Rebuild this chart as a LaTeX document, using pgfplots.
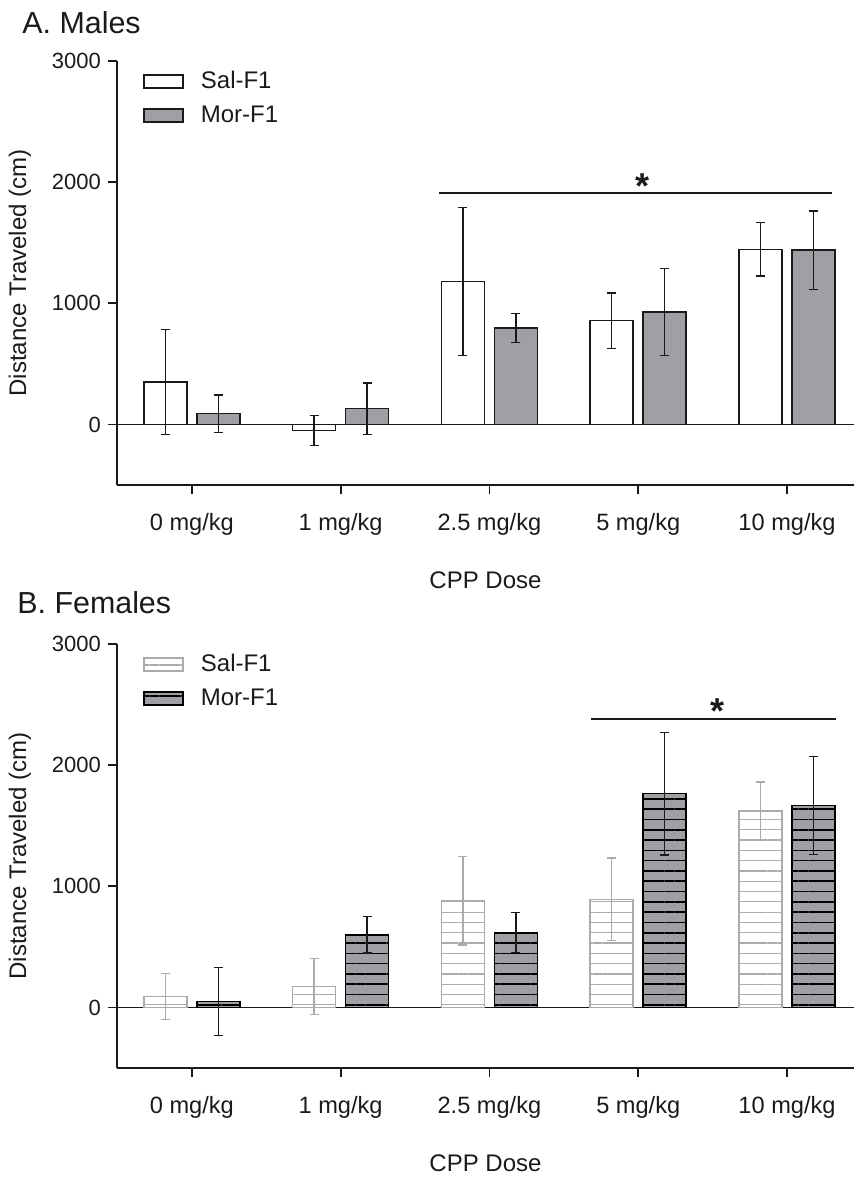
\documentclass[border=0pt]{standalone}
\usepackage{fontspec}
\setmainfont{Liberation Sans}
\usepackage{pgfplots}
\pgfplotsset{compat=1.18}
\usetikzlibrary{patterns.meta}
\definecolor{txt}{HTML}{1A1A1A}
\definecolor{morgray}{HTML}{A0A0A4}
\definecolor{salgray}{HTML}{ABABAB}

\pgfplotsset{
  panel/.style={
    scale only axis, width=368.5pt, height=212pt,
    xmin=-0.503, xmax=4.45, ymin=-500, ymax=3000,
    axis x line*=bottom, axis y line*=left,
    axis line style={line width=0.9pt, color=txt},
    tick align=outside,
    xtick={0,1,2,3,4},
    xticklabels={0 mg/kg,1 mg/kg,2.5 mg/kg,5 mg/kg,10 mg/kg},
    ytick={0,1000,2000,3000},
    minor tick num=0,
    major tick length=4.5pt,
    tick style={line width=0.9pt, color=txt},
    /pgf/number format/assume math mode=true,
    /pgf/number format/set thousands separator={},
    yticklabel style={font=\fontsize{11}{13}\selectfont, color=txt},
    xticklabel style={font=\fontsize{11.8}{13}\selectfont, color=txt, yshift=-6pt},
    ybar=5pt, bar width=21.5pt,
    clip=false,
    xlabel={CPP Dose}, ylabel={Distance Traveled (cm)},
    every axis x label/.style={at={(axis description cs:0.5,-0.224)}, anchor=center, font=\fontsize{12}{14}\selectfont, color=txt},
    every axis y label/.style={at={(axis description cs:-0.1316,0.5)}, anchor=center, rotate=90, font=\fontsize{12}{14}\selectfont, color=txt},
    legend style={at={(axis description cs:0.0353,0.986)}, anchor=north west, draw=none, fill=none, inner sep=0pt,
      font=\fontsize{12}{14}\selectfont, text=txt, row sep=3pt},
    legend cell align=left,
    legend image code/.code={\draw[#1] (0pt,-3.25pt) rectangle (19.5pt,3.25pt);},
  },
  errs/.style={error bars/.cd, y dir=both, y explicit,
    error bar style={line width=0.75pt, color=#1},
    error mark=-,
    error mark options={rotate=90, line width=0.75pt, mark size=2.25pt, color=#1}},
}

\begin{document}
\begin{tikzpicture}
\useasboundingbox (0,0) rectangle (427pt,-590pt);

\node[anchor=west, inner sep=0pt, font=\fontsize{15.2}{18}\selectfont, text=txt] at (11pt,-11.25pt) {A. Males};
\node[anchor=west, inner sep=0pt, font=\fontsize{15.2}{18}\selectfont, text=txt] at (8.5pt,-301.5pt) {B. Females};

% ---------------- Panel A ----------------
\begin{axis}[panel, at={(58.5pt,-242.5pt)}, anchor=south west]
\draw[line width=0.9pt, txt] (axis cs:-0.503,0) -- (axis cs:4.45,0);
\addplot[draw=txt, line width=0.75pt, fill=white, errs=txt]
  coordinates {(0,350) +- (0,435) (1,-50) +- (0,122) (2,1180) +- (0,609) (3,857) +- (0,230) (4,1445) +- (0,220)};
\addplot[draw=txt, line width=0.75pt, fill=morgray, errs=txt]
  coordinates {(0,90) +- (0,155) (1,130) +- (0,211) (2,795) +- (0,120) (3,928) +- (0,358) (4,1438) +- (0,323)};
\legend{\hspace*{6.5pt}Sal-F1, \hspace*{6.5pt}Mor-F1}
\draw[line width=0.9pt, txt] (axis cs:1.66,1912) -- (axis cs:4.30,1912);
\node[anchor=north, inner sep=0pt, font=\fontsize{18}{18}\selectfont\bfseries, text=txt] at (axis cs:3.03,2074) {*};
\end{axis}

% ---------------- Panel B ----------------
\begin{axis}[panel, at={(58.5pt,-534pt)}, anchor=south west]
\draw[line width=0.9pt, txt] (axis cs:-0.503,0) -- (axis cs:4.45,0);
\addplot[draw=salgray, line width=0.75pt, fill=white,
  postaction={pattern={Lines[angle=0,distance=5.15pt,line width=0.6pt]}, pattern color=salgray}, errs=salgray]
  coordinates {(0,90) +- (0,190) (1,172) +- (0,230) (2,881) +- (0,366) (3,892) +- (0,341) (4,1621) +- (0,239)};
\addplot[draw=black, line width=0.75pt, fill=morgray,
  postaction={pattern={Lines[angle=0,distance=5.15pt,line width=0.8pt]}, pattern color=black}, errs=txt]
  coordinates {(0,50) +- (0,280) (1,600) +- (0,150) (2,618) +- (0,164) (3,1765) +- (0,505) (4,1666) +- (0,405)};
\legend{\hspace*{6.5pt}Sal-F1, \hspace*{6.5pt}Mor-F1}
\draw[line width=0.9pt, txt] (axis cs:2.68,2378) -- (axis cs:4.33,2378);
\node[anchor=north, inner sep=0pt, font=\fontsize{18}{18}\selectfont\bfseries, text=txt] at (axis cs:3.53,2552) {*};
\end{axis}
\end{tikzpicture}
\end{document}
